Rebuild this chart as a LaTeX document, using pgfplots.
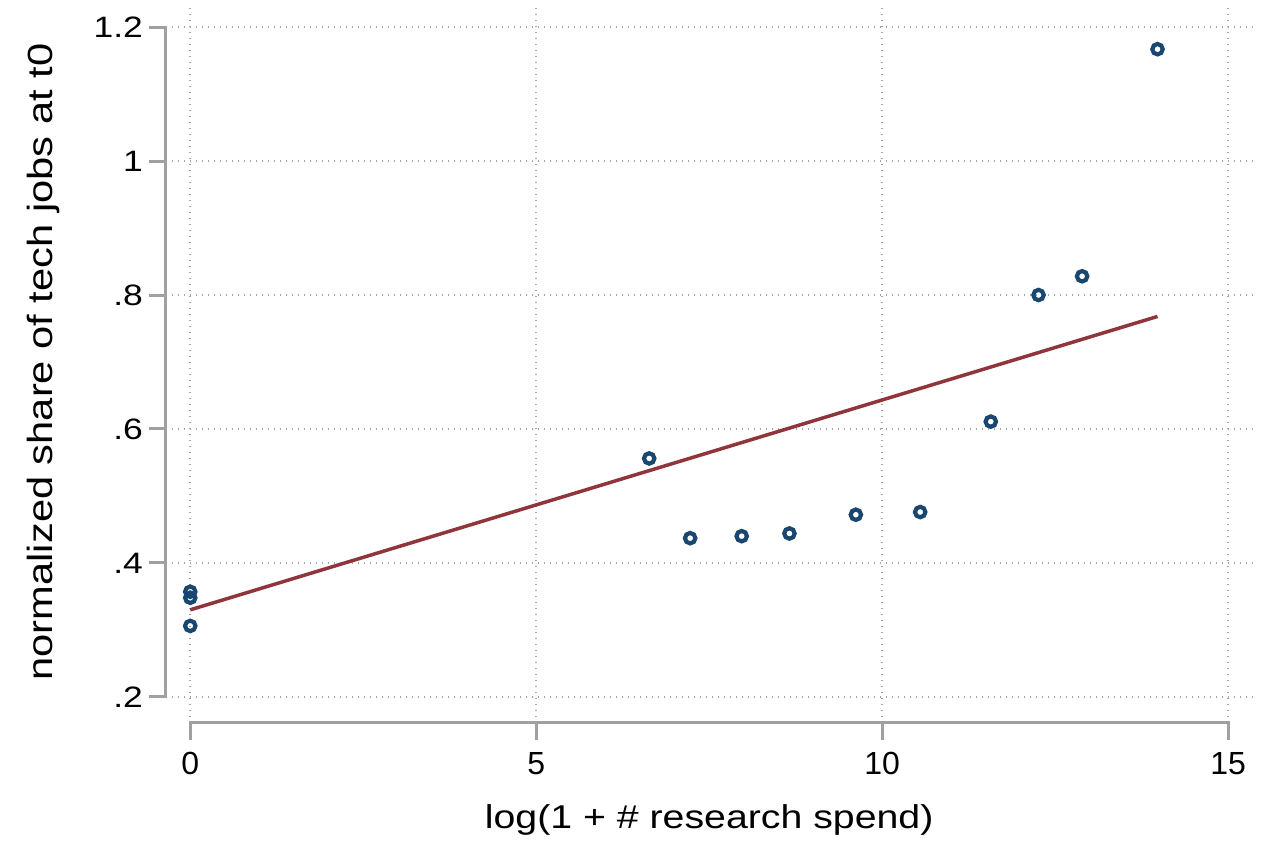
\documentclass[border=0pt]{standalone}
\usepackage{fontspec}
\setmainfont{Liberation Sans}
\newfontfamily\titlefont[FakeStretch=1.19]{Liberation Sans}
\newfontfamily\ytickfont[FakeStretch=1.2]{Liberation Sans}
\usepackage{pgfplots}
\pgfplotsset{compat=1.18}
\definecolor{navy}{HTML}{1A476F}
\definecolor{maroon}{HTML}{90353B}
\definecolor{spinec}{HTML}{A0A0A0}
\definecolor{gridc}{HTML}{A4A4A4}
\begin{document}
\begin{tikzpicture}
\begin{axis}[
 scale only axis, width=1081pt, height=712pt,
 xmin=-0.264, xmax=15.36, ymin=0.170, ymax=1.233,
 axis line style={draw=none},
 major tick length=0pt,
 xtick={0,5,10,15}, xticklabels={0,5,10,15},
 ytick={0.2,0.4,0.6,0.8,1,1.2}, yticklabels={.2,.4,.6,.8,1,1.2},
 xmajorgrids, ymajorgrids,
 grid style={gridc, line width=2.4pt, dash pattern=on 1pt off 5pt},
 xticklabel style={font=\fontsize{32}{32}\selectfont, anchor=base, inner sep=0pt, yshift=-58pt},
 yticklabel style={font=\ytickfont\fontsize{29.5}{29.5}\selectfont, anchor=east, inner sep=0pt, xshift=-29pt},
 clip=false,
]
\addplot[maroon, line width=3.5pt] coordinates {(0,0.330) (13.98,0.768)};
\addplot[only marks, mark=o, mark size=5.2pt, mark options={navy, line width=4.2pt}] coordinates {
(0,0.357) (0,0.348) (0,0.306)
(6.633,0.556) (7.225,0.437) (7.97,0.440) (8.66,0.444) (9.62,0.472) (10.55,0.476)
(11.57,0.611) (12.26,0.800) (12.89,0.828) (13.98,1.167)
};
% axis spines (Stata-style, offset from plot region)
\draw[spinec, line width=3pt, line join=miter]
  ([yshift=-23pt]axis cs:0,0.17) -- ([yshift=-6pt]axis cs:0,0.17) -- ([yshift=-6pt]axis cs:15,0.17) -- ([yshift=-23pt]axis cs:15,0.17);
\draw[spinec, line width=3pt] ([yshift=-6pt]axis cs:5,0.17) -- ([yshift=-23pt]axis cs:5,0.17);
\draw[spinec, line width=3pt] ([yshift=-6pt]axis cs:10,0.17) -- ([yshift=-23pt]axis cs:10,0.17);
\draw[spinec, line width=3pt, line join=miter]
  ([xshift=-23pt]axis cs:-0.264,0.2) -- ([xshift=-6pt]axis cs:-0.264,0.2) -- ([xshift=-6pt]axis cs:-0.264,1.2) -- ([xshift=-23pt]axis cs:-0.264,1.2);
\draw[spinec, line width=3pt] ([xshift=-6pt]axis cs:-0.264,0.4) -- ([xshift=-23pt]axis cs:-0.264,0.4);
\draw[spinec, line width=3pt] ([xshift=-6pt]axis cs:-0.264,0.6) -- ([xshift=-23pt]axis cs:-0.264,0.6);
\draw[spinec, line width=3pt] ([xshift=-6pt]axis cs:-0.264,0.8) -- ([xshift=-23pt]axis cs:-0.264,0.8);
\draw[spinec, line width=3pt] ([xshift=-6pt]axis cs:-0.264,1.0) -- ([xshift=-23pt]axis cs:-0.264,1.0);
% titles
\node[rotate=90, anchor=base, inner sep=0pt, font=\titlefont\fontsize{35}{35}\selectfont]
  at ([xshift=-119pt]axis cs:-0.264,0.700) {normalized share of tech jobs at t0};
\node[anchor=base, inner sep=0pt, font=\titlefont\fontsize{33}{33}\selectfont]
  at ([yshift=-112pt]axis cs:7.5,0.17) {log(1 + \# research spend)};
% bounding box
\path ([xshift=-172pt, yshift=-132pt]axis cs:-0.264,0.17) rectangle ([xshift=19pt, yshift=5pt]axis cs:15.36,1.233);
\end{axis}
\end{tikzpicture}
\end{document}
